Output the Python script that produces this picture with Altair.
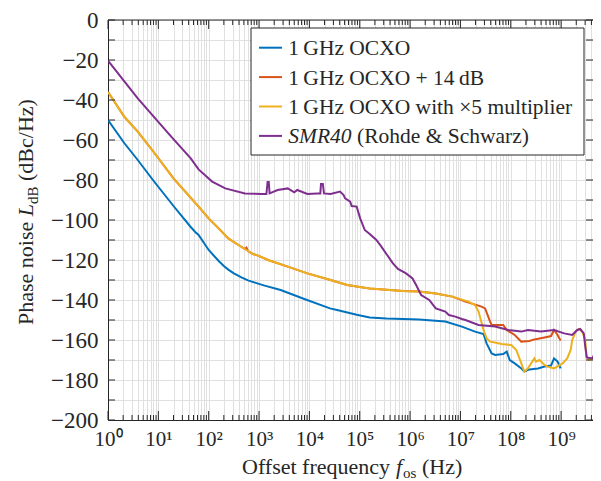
import altair as alt
import pandas as pd

# ---------------- data ----------------
series_names = [
    "1\u2009GHz OCXO",
    "1\u2009GHz OCXO + 14\u2009dB",
    "1\u2009GHz OCXO with \u00d75 multiplier",
    "SMR40 (Rohde & Schwarz)",
]
series_colors = ["#0072BD", "#D95319", "#EDB120", "#7E2F8E"]

blue_f = [1, 2.1, 3.9, 7.8, 20, 44, 54, 63, 100, 158, 200, 245, 316, 447, 603, 955, 1290, 2690,
          7940, 25700, 35500, 87100, 158000, 339000, 1.51e6, 5.01e6, 1.07e7, 1.95e7, 2.88e7,
          3.31e7, 4.17e7, 4.9e7, 7.08e7, 8.32e7, 9.55e7, 1.2e8, 1.62e8, 1.86e8, 2.34e8, 3.47e8,
          4.68e8, 6.31e8, 7.24e8, 8.51e8, 9.77e8]
blue_L = [-50, -61.5, -70, -80, -93, -103.5, -106, -107.5, -115, -120.5, -123, -124.8, -126.7,
          -128.7, -130.2, -131.8, -132.8, -135, -139.5, -144.2, -145, -147.4, -148.7, -149.3,
          -149.7, -150.8, -153.3, -155.8, -157, -161.7, -166.7, -167.5, -167, -165.8, -170,
          -171.7, -174.2, -175.8, -174.7, -174.2, -173.3, -172.8, -169.2, -170.8, -174.2]

orange_f = [1, 2.1, 3.9, 7.8, 20, 63, 100, 158, 245, 389, 525, 562, 603, 759, 955, 1510, 3720,
            9120, 26300, 56200, 87100, 158000, 724000, 1.51e6, 3.24e6, 6.92e6, 1.26e7, 2.63e7,
            3.09e7, 3.89e7, 4.17e7, 7.08e7, 8.32e7, 1.2e8, 1.62e8, 2.34e8, 2.95e8, 4.68e8,
            6.31e8, 7.24e8, 8.51e8, 9.77e8]
orange_L = [-36, -48.3, -55.8, -65.5, -79.2, -93.3, -99.2, -104.2, -109.2, -112.5, -114.5,
            -113.8, -115.5, -117, -117.8, -120, -123.3, -126.7, -130, -132.5, -133.3, -134.2,
            -135.5, -135.8, -136.7, -138.3, -140.8, -143.3, -144.2, -150.8, -152.5, -152.5,
            -155, -157.5, -160.8, -160.5, -159.7, -158.7, -158, -155, -157.5, -160.3]

yellow_f = [1, 2.1, 3.9, 7.8, 20, 63, 100, 158, 245, 389, 603, 759, 955, 1510, 3720, 9120,
            26300, 56200, 87100, 158000, 724000, 1.51e6, 3.24e6, 6.92e6, 1.45e7, 1.95e7,
            2.29e7, 2.88e7, 3.31e7, 3.89e7, 6.61e7, 1.02e8, 1.29e8, 1.62e8, 1.86e8, 2.19e8,
            2.95e8, 3.16e8, 3.72e8, 4.68e8, 5.37e8, 7.24e8, 1.07e9, 1.32e9, 1.55e9, 1.66e9,
            1.95e9, 2.24e9, 2.63e9, 3.02e9, 3.16e9, 3.55e9, 4.17e9, 4.6e9]
yellow_L = [-36, -48.3, -55.8, -65.5, -79.2, -93.3, -99.2, -104.2, -109.2, -112.5, -115.5,
            -117, -117.8, -120, -123.3, -126.7, -130, -132.5, -133.3, -134.2, -135.5, -135.8,
            -136.7, -138.3, -140.8, -142.5, -145.8, -155, -159.2, -160.8, -162, -162.5, -165,
            -171.7, -175.8, -174.2, -169.2, -170.8, -170, -172.5, -173.3, -174.2, -171.7,
            -169.2, -165, -160, -155.8, -154.5, -155.8, -160, -168.3, -170, -169.2, -168.3]

purple_f = [1, 3.9, 18, 44, 63, 117, 214, 525, 1120, 1400, 1480, 1560, 1620, 2340, 3720, 5010,
            5750, 9120, 14500, 16500, 17000, 18500, 19500, 26300, 40700, 47900, 51300, 64600,
            69200, 87100, 102000, 126000, 158000, 214000, 269000, 339000, 457000, 575000,
            832000, 1.12e6, 1.32e6, 1.66e6, 2.4e6, 3.24e6, 5.01e6, 5.89e6, 7.94e6, 1.07e7,
            1.26e7, 2.29e7, 4.9e7, 8.91e7, 1.62e8, 2.19e8, 3.98e8, 7.24e8, 1.15e9, 1.66e9,
            2.09e9, 2.4e9, 2.82e9, 3.02e9, 3.24e9, 4.17e9, 4.6e9]
purple_L = [-20.3, -39.2, -58.3, -69.2, -74.7, -80.8, -84.2, -86.7, -87, -87, -81, -81, -86.7,
            -85, -84.2, -86.2, -85, -87, -86.7, -86.7, -82, -82, -86.7, -87, -85.8, -87.5,
            -89.2, -90.8, -93, -93.3, -99.2, -105, -107, -110, -113.3, -117, -121.7, -124.5,
            -126.7, -129.2, -132.5, -137.5, -140, -144.2, -145.8, -147.5, -148.3, -149.5, -150,
            -152.5, -153.3, -155, -155.8, -155, -155.8, -155, -156.7, -157.5, -155, -154.5,
            -156.7, -163.3, -168.7, -169.2, -167]

x_decades = [1, 10, 100, 1e3, 1e4, 1e5, 1e6, 1e7, 1e8, 1e9]
x_tick_labels = ["10\u2070", "10\u00b9", "10\u00b2", "10\u00b3", "10\u2074",
                 "10\u2075", "10\u2076", "10\u2077", "10\u2078", "10\u2079"]
x_max = 4.3e9
y_ticks = list(range(-200, 1, 10))

# ---------------- styling ----------------
W, H = 485, 400
FONT = "Liberation Serif"
INK = "#262626"
GRID = "#e0e0e0"

x_minor = [m * d for d in x_decades for m in range(2, 10) if m * d <= x_max]
x_grid = sorted(x_decades + x_minor)

label_expr = " : ".join(
    f"datum.value == {int(v)} ? '{lab}'" for v, lab in zip(x_decades, x_tick_labels)
) + " : ''"

xscale = alt.Scale(type="log", domain=[1, x_max], nice=False)
yscale = alt.Scale(domain=[-200, 0], nice=False)

xaxis = alt.Axis(values=x_grid, grid=True, gridColor=GRID, gridWidth=1, ticks=False,
                 domainColor=INK, domainWidth=1, labelExpr=label_expr, labelFlush=False,
                 labelOverlap=False, labelPadding=8, labelBaseline="top", labelFont=FONT,
                 labelFontSize=21, labelColor=INK, title="")
yaxis = alt.Axis(values=y_ticks, grid=True, gridColor=GRID, gridWidth=1, ticks=False,
                 domainColor=INK, domainWidth=1,
                 labelExpr="datum.value % 20 == 0 ? datum.label : ''",
                 labelOverlap=False, labelPadding=10, labelFont=FONT, labelFontSize=23,
                 labelColor=INK, title="")


def X(field="f"):
    return alt.X(f"{field}:Q", scale=xscale, axis=xaxis)


def Y(field="L"):
    return alt.Y(f"{field}:Q", scale=yscale, axis=yaxis)


color_scale = alt.Scale(domain=series_names, range=series_colors)

layers = []
for name, fs, Ls in zip(series_names,
                        [blue_f, orange_f, yellow_f, purple_f],
                        [blue_L, orange_L, yellow_L, purple_L]):
    df = pd.DataFrame({"f": fs, "L": Ls, "series": name})
    layers.append(
        alt.Chart(df).mark_line(strokeWidth=2, clip=True).encode(
            x=X(), y=Y(),
            color=alt.Color("series:N", scale=color_scale, legend=None),
        )
    )

# inward ticks on all sides
df_xmaj = pd.DataFrame({"f": x_decades})
df_xmin = pd.DataFrame({"f": x_minor})
df_yt = pd.DataFrame({"L": y_ticks})
for df, length in [(df_xmaj, 9), (df_xmin, 5)]:
    layers.append(alt.Chart(df).mark_rule(color=INK, strokeWidth=1).encode(
        x=X(), y=alt.value(H), y2=alt.value(H - length)))
    layers.append(alt.Chart(df).mark_rule(color=INK, strokeWidth=1).encode(
        x=X(), y=alt.value(0), y2=alt.value(length)))
layers.append(alt.Chart(df_yt).mark_rule(color=INK, strokeWidth=1).encode(
    y=Y(), x=alt.value(0), x2=alt.value(7)))
layers.append(alt.Chart(df_yt).mark_rule(color=INK, strokeWidth=1).encode(
    y=Y(), x=alt.value(W - 7), x2=alt.value(W)))
# top frame line
layers.append(alt.Chart(pd.DataFrame({"k": [0]})).mark_rule(color=INK, strokeWidth=1).encode(
    x=alt.value(0), x2=alt.value(W), y=alt.value(0)))


def txt(s, x, y, size=22, style="normal", angle=0, align="left", baseline="alphabetic"):
    return alt.Chart(pd.DataFrame({"t": [s]})).mark_text(
        font=FONT, fontSize=size, fontStyle=style, angle=angle, align=align,
        baseline=baseline, color=INK,
    ).encode(x=alt.value(x), y=alt.value(y), text="t:N")


# legend box
LX = 143
layers.append(alt.Chart(pd.DataFrame({"k": [0]})).mark_rect(
    fill="white", stroke=INK, strokeWidth=1).encode(
    x=alt.value(LX), x2=alt.value(W - 9), y=alt.value(8), y2=alt.value(135)))
LEG_FS = 21.5
for i, (name, col) in enumerate(zip(series_names, series_colors)):
    ry = 27.7 + i * 29.4
    layers.append(alt.Chart(pd.DataFrame({"series": [name]})).mark_rule(strokeWidth=2).encode(
        x=alt.value(LX + 8), x2=alt.value(LX + 31), y=alt.value(ry),
        color=alt.Color("series:N", scale=color_scale, legend=None)))
    if name.startswith("SMR40"):
        head, rest = name.split(" ", 1)
        layers.append(txt(head, LX + 37.3, ry + 7.5, size=LEG_FS, style="italic"))
        layers.append(txt(rest, LX + 106, ry + 7.5, size=LEG_FS))
    else:
        layers.append(txt(name, LX + 37.3, ry + 7.5, size=LEG_FS))

# y-axis title: Phase noise L_dB (dBc/Hz)
yb = 305
layers.append(txt("Phase noise", -75, yb, angle=270))
layers.append(txt("L", -75, yb - 108.8, style="italic", angle=270))
layers.append(txt("dB", -70, yb - 121, size=15, angle=270))
layers.append(txt("(dBc/Hz)", -75, yb - 144, angle=270))

# x-axis title: Offset frequency f_os (Hz)
xb = 134
ty = 454
layers.append(txt("Offset frequency", xb, ty))
layers.append(txt("f", xb + 153.9, ty, style="italic"))
layers.append(txt("os", xb + 161, ty + 4, size=15))
layers.append(txt("(Hz)", xb + 180, ty))

chart = alt.layer(*layers).properties(
    width=W, height=H,
    autosize=alt.AutoSizeParams(type="none"),
    padding={"left": 100, "top": 12, "right": 0, "bottom": 61},
).configure_view(stroke="transparent")

chart.save("out.html", embed_options={"renderer": "svg", "actions": False})
